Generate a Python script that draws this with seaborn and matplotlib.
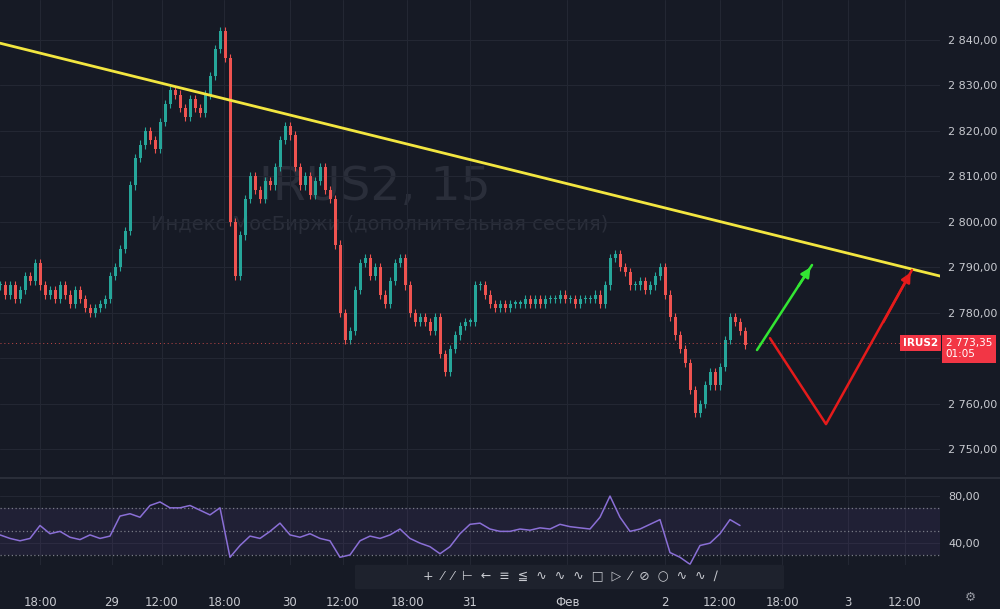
import numpy as np
import pandas as pd
import matplotlib
matplotlib.use("Agg")
import matplotlib.pyplot as plt
from matplotlib.patches import FancyBboxPatch
import seaborn as sns

sns.set_theme(style="dark")
plt.rcParams['font.family'] = ['DejaVu Sans']

BG = "#161a25"
UP = "#26a69a"
DN = "#ef5350"

closes = [2786,2784,2786,2783,2785,2788,2787,2791,2786,2784,2785,2783,2786,2784,2782,2785,2783,2781,2780,2781,2782,
          2783,2788,2790,2794,2798,2808,2814,2817,2820,2818,2816,2822,2826,2829,2828,2825,2823,2827,2825,2824,2828,2832,2838,2842,2836,
          2800,2788,2797,2805,2810,2807,2805,2809,2808,2812,2818,2821,2819,2812,2808,2810,2806,2809,2812,2807,2805,
          2795,2780,2774,2776,2785,2791,2792,2788,2790,2784,2782,2787,2791,2792,2786,2780,2778,2779,2778,2776,2779,2771,2767,2772,2775,2777,2778,2778,
          2786,2786,2784,2782,2781,2782,2781,2782,2782,2782,2783,2782,2783,2782,2783,2783,2783,2784,2783,2783,2782,2783,2783,2783,2784,2782,
          2786,2792,2793,2790,2789,2786,2786,2787,2785,2786,2788,2790,2784,2779,2775,2772,2769,2763,2758,2760,2764,2767,2764,2768,2774,2779,2778,2776,2773]
rsi = [47,44,42,44,55,48,50,45,43,47,44,
       46,63,65,62,72,75,70,70,72,68,64,70,
       28,38,46,44,50,57,47,45,48,44,42,
       28,30,42,46,44,47,52,44,40,37,31,37,48,56,
       57,52,50,50,52,51,53,52,56,54,53,52,62,
       80,62,50,52,56,60,32,28,22,38,40,48,60,55]
price_ticks = [2750,2760,2770,2780,2790,2800,2810,2820,2830,2840]
time_labels = ["18:00","29","12:00","18:00","30","12:00","18:00","31","Фев","2","12:00","18:00","3","12:00"]
time_pos = [40,112,162,224,290,343,407,470,567,665,720,782,848,905]
trend_x = [0, 1000]; trend_p = [2839.3, 2784.8]
green_x = [757, 812]; green_p = [2771.8, 2790.5]
red_x = [770, 826, 912]; red_p = [2774.4, 2755.5, 2789.4]
last_price = 2773.35

fig = plt.figure(figsize=(10, 6.09), dpi=100, facecolor=BG)
ax = fig.add_axes([0, 0.22, 0.94, 0.78], facecolor=BG)
ar = fig.add_axes([0, 0.072, 0.94, 0.143], facecolor=BG)

x = np.arange(len(closes)) * 5
opens = [closes[0]] + closes[:-1]
for xi, o, c in zip(x, opens, closes):
    col = UP if c >= o else DN
    ax.vlines(xi, min(o, c) - 0.9, max(o, c) + 0.9, color=col, lw=0.8)
    ax.bar(xi, max(abs(c - o), 0.3), bottom=min(o, c), width=3, color=col, lw=0)

ax.axhline(last_price, color=DN, lw=0.7, ls=(0, (1, 3)), alpha=0.8)
sns.lineplot(x=trend_x, y=trend_p, ax=ax, color="#f2e640", lw=2)
sns.lineplot(x=green_x, y=green_p, ax=ax, color="#33e633", lw=1.8)
ax.annotate("", xy=(green_x[1], green_p[1]), xytext=(green_x[0] + 40, green_p[0] + 13.6),
            arrowprops=dict(arrowstyle="-|>", color="#33e633", lw=1.8, mutation_scale=14))
sns.lineplot(x=red_x, y=red_p, ax=ax, color="#e51b1b", lw=1.8, sort=False)
ax.annotate("", xy=(red_x[2], red_p[2]), xytext=(red_x[2] - 30, red_p[2] - 12),
            arrowprops=dict(arrowstyle="-|>", color="#e51b1b", lw=1.8, mutation_scale=14))

ax.text(375, 2807.5, "IRUS2, 15", color="#2a2e3a", fontsize=34, ha="center", va="center", zorder=0)
ax.text(380, 2799.5, "Индекс МосБиржи (дополнительная сессия)", color="#2a2e3a", fontsize=14,
        ha="center", va="center", zorder=0)

ax.set_xlim(0, 940)
ax.set_ylim(2744.3, 2848.8)
ax.set_yticks(price_ticks)
ax.yaxis.tick_right()
ax.set_yticklabels(["" if v == 2770 else f"{v//1000} {v%1000:03d},00" for v in price_ticks],
                   color="#c8cad0", fontsize=8)
ax.set_xticks(time_pos)
ax.tick_params(axis="x", labelbottom=False, length=0)
ax.tick_params(axis="y", length=0, pad=6)
ax.grid(True, color="#232733", lw=0.8)
for s in ax.spines.values():
    s.set_visible(False)

ax.text(0.998, last_price, "IRUS2", transform=ax.get_yaxis_transform(), ha="right", va="center",
        color="white", fontsize=7.5, fontweight="bold",
        bbox=dict(boxstyle="square,pad=0.3", fc="#f23645", ec="none"), zorder=5)
ax.text(1.006, last_price - 1.3, "2 773,35\n01:05", transform=ax.get_yaxis_transform(), ha="left", va="center",
        color="white", fontsize=7.5, linespacing=1.1, clip_on=False,
        bbox=dict(boxstyle="square,pad=0.35", fc="#f23645", ec="none"), zorder=5)

# RSI
xr = np.arange(len(rsi)) * 10
ar.axhspan(30, 70, color="#7e57c2", alpha=0.1, lw=0)
for lvl in (30, 50, 70):
    ar.axhline(lvl, color="#787b86", lw=0.9, ls=(0, (1, 2)))
sns.lineplot(x=xr, y=rsi, ax=ar, color="#8a6fd6", lw=1.1)
ar.set_xlim(0, 940)
ar.set_ylim(21.3, 95.3)
ar.set_yticks([40, 80])
ar.yaxis.tick_right()
ar.set_yticklabels(["40,00", "80,00"], color="#c8cad0", fontsize=8)
ar.set_xticks(time_pos)
ar.set_xticklabels(time_labels, color="#c8cad0", fontsize=8.5)
ar.tick_params(axis="x", length=0, pad=22)
ar.tick_params(axis="y", length=0, pad=6)
ar.grid(True, color="#232733", lw=0.8)
for s in ar.spines.values():
    s.set_visible(False)

fig.add_artist(plt.Line2D([0, 1], [1 - 478/609] * 2, color="#2a2e39", lw=1.5))
tb = FancyBboxPatch((357/1000, 1 - 588/609), 425/1000, 22/609, boxstyle="round,pad=0.002",
                    transform=fig.transFigure, fc="#1e222d", ec="none")
fig.add_artist(tb)
fig.text(570/1000, 1 - 577/609, "+  ⁄  ⁄  ⊢  ←  ≡  ≦  ∿  ∿  ∿  □  ▷  ⁄  ⊘  ○  ∿  ∿  ∕",
         color="#c8cad0", fontsize=9, ha="center", va="center")
fig.text(970/1000, 1 - 597/609, "⚙", color="#9598a1", fontsize=9, ha="center", va="center")

fig.savefig("out.png", dpi=100, facecolor=BG)
